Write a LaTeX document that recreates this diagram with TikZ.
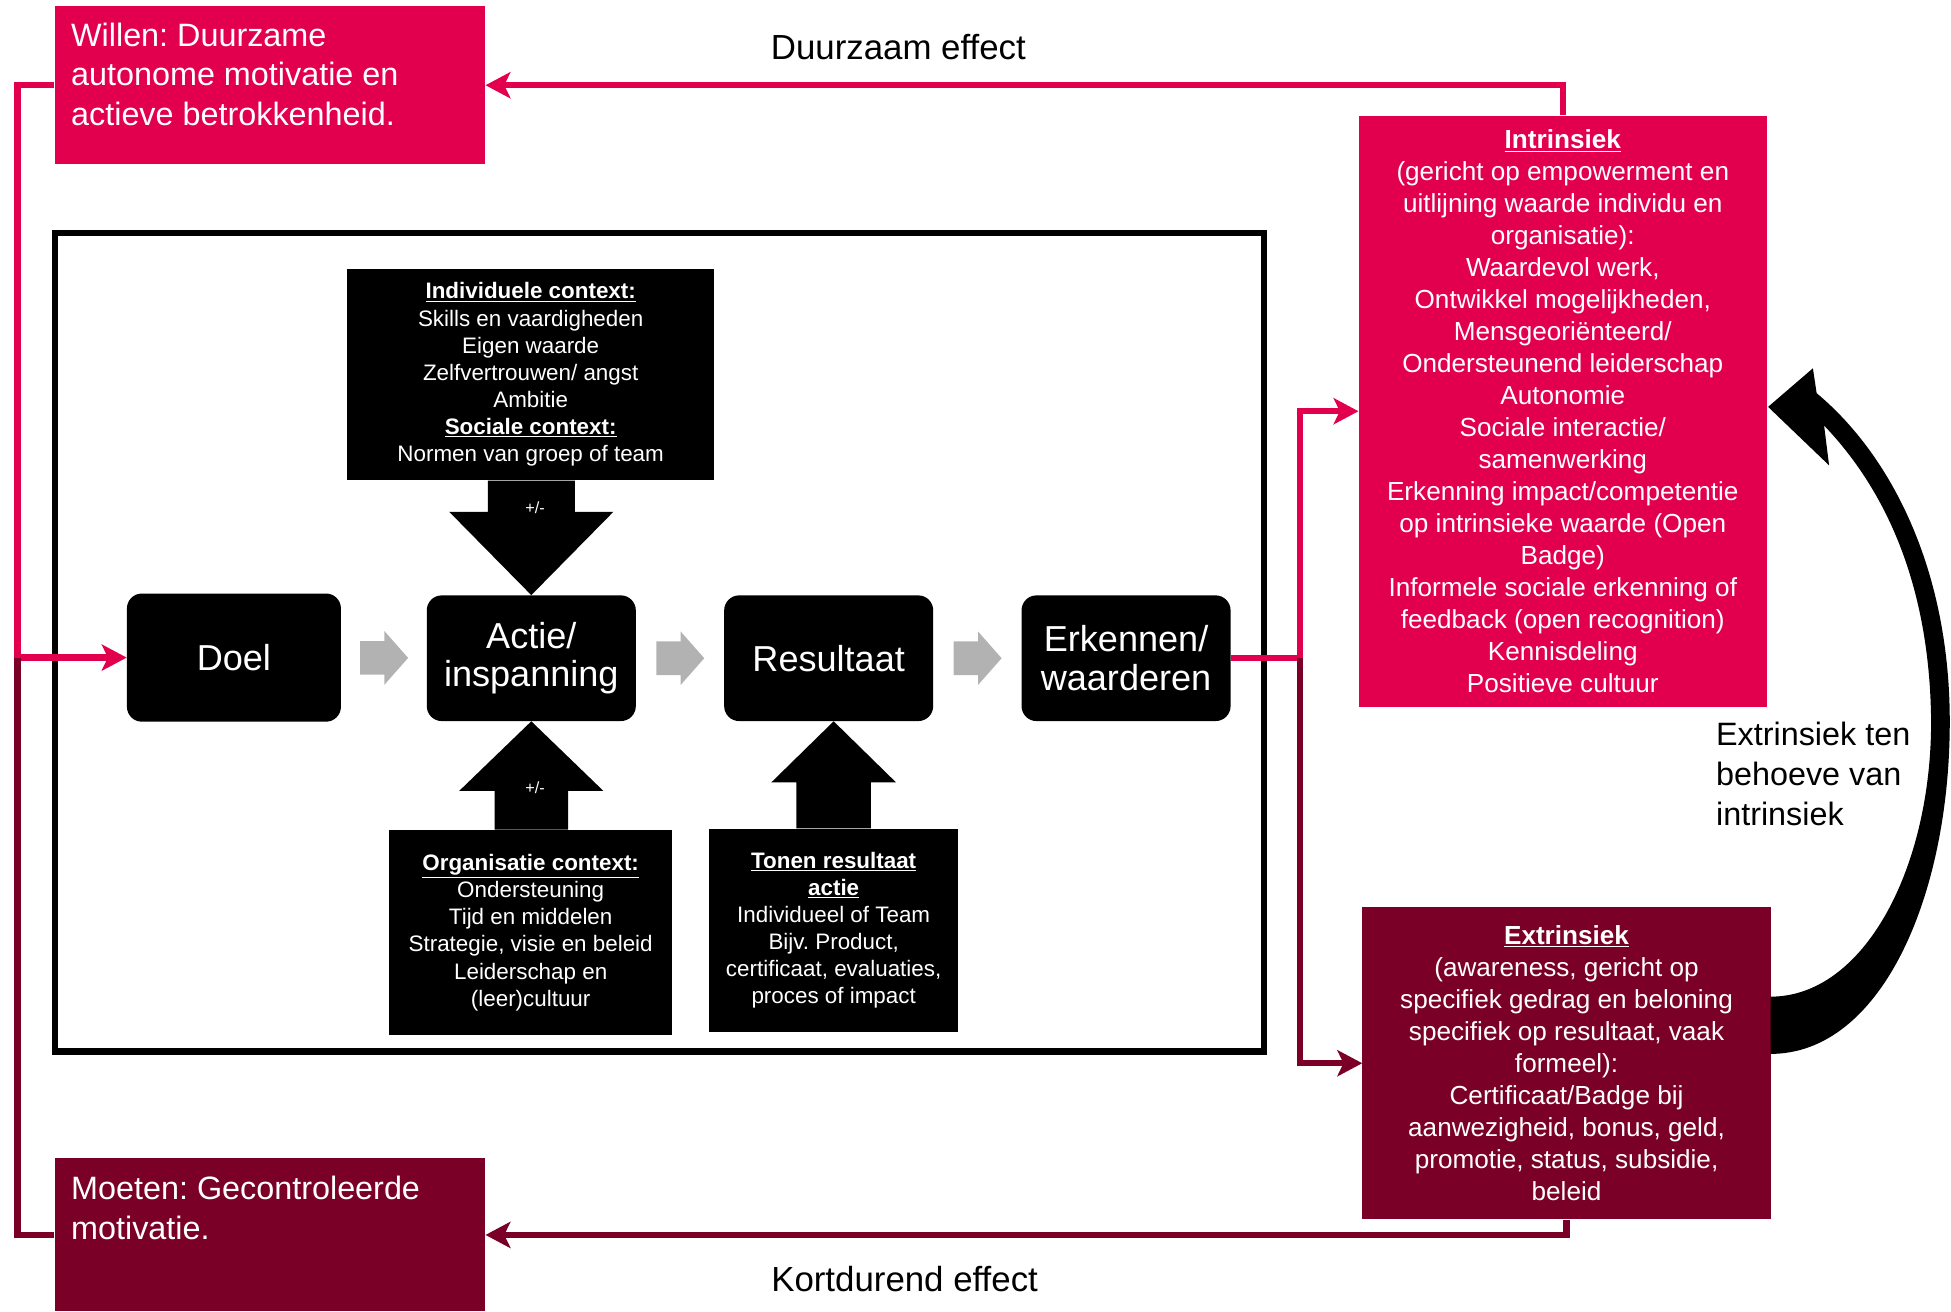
\documentclass[tikz,border=0pt]{standalone}
\usepackage{fontspec}
\setmainfont{Liberation Sans}
\usetikzlibrary{arrows.meta,calc}
\definecolor{pinkc}{RGB}{226,0,78}
\definecolor{darkc}{RGB}{122,0,40}
\definecolor{greyc}{RGB}{178,178,178}
\frenchspacing
\begin{document}
\begin{tikzpicture}[x=1pt,y=1pt,
  pinkbox/.style={fill=pinkc, draw=none, inner sep=0pt},
  darkbox/.style={fill=darkc, draw=none, inner sep=0pt},
  blkbox/.style={fill=black, draw=none, inner sep=0pt, text=white, align=center},
  stepnode/.style={blkbox, rounded corners=12pt, font=\fontsize{29}{31}\selectfont},
  ctxtext/.style={font=\fontsize{18}{21.8}\selectfont},
  sidetext/.style={text=white, align=center, font=\fontsize{21}{25.7}\selectfont},
  cornertext/.style={text=white, align=left, anchor=north west, inner sep=0pt, font=\fontsize{26}{32}\selectfont},
  plaintext/.style={text=black, inner sep=0pt, font=\fontsize{28}{32}\selectfont},
  pmtext/.style={text=white, inner sep=0pt, font=\fontsize{13}{15}\selectfont},
  pinkln/.style={draw=pinkc, line width=5pt},
  darkln/.style={draw=darkc, line width=5pt},
  arrowend/.style={-{Stealth[length=20pt,width=21pt,inset=5pt]}},
  garrow/.pic={\fill[greyc] (-19,13.5) -- (0.5,13.5) -- (0.5,21.5) -- (19.5,0) -- (0.5,-21.5) -- (0.5,-13.5) -- (-19,-13.5) -- cycle;}
]
\useasboundingbox (0,0) rectangle (1568,-1054);

% corner boxes
\node[pinkbox, minimum width=346pt, minimum height=127pt] (willen) at (217,-68.5) {};
\node[cornertext] (willentxt) at (57,-18) {Willen: Duurzame\\autonome motivatie en\\actieve betrokkenheid.};
\node[darkbox, minimum width=346pt, minimum height=123pt] (moeten) at (217,-992.5) {};
\node[cornertext] (moetentxt) at (57,-945) {Moeten: Gecontroleerde\\motivatie.};

% side boxes
\node[pinkbox, sidetext, minimum width=328pt, minimum height=475pt] (intr) at (1256,-330.5)
 {\underline{\textbf{Intrinsiek}}\\(gericht op empowerment en\\uitlijning waarde individu en\\organisatie):\\Waardevol werk,\\Ontwikkel mogelijkheden,\\Mensgeoriënteerd/\\Ondersteunend leiderschap\\Autonomie\\Sociale interactie/\\samenwerking\\Erkenning impact/competentie\\op intrinsieke waarde (Open\\Badge)\\Informele sociale erkenning of\\feedback (open recognition)\\Kennisdeling\\Positieve cultuur};
\node[darkbox, sidetext, minimum width=328pt, minimum height=251pt] (extr) at (1259,-854.5)
 {\underline{\textbf{Extrinsiek}}\\(awareness, gericht op\\specifiek gedrag en beloning\\specifiek op resultaat, vaak\\formeel):\\Certificaat/Badge bij\\aanwezigheid, bonus, geld,\\promotie, status, subsidie,\\beleid};

% frame
\node[draw=black, line width=5pt, minimum width=972pt, minimum height=658pt, inner sep=0pt] (frame) at (530,-516) {};

% context boxes
\node[blkbox, ctxtext, minimum width=295pt, minimum height=170pt] (indiv) at (426.5,-301)
 {\underline{\textbf{Individuele context:}}\\Skills en vaardigheden\\Eigen waarde\\Zelfvertrouwen/ angst\\Ambitie\\\underline{\textbf{Sociale context:}}\\Normen van groep of team};
\node[blkbox, ctxtext, minimum width=227pt, minimum height=165pt] (org) at (426.5,-749.5)
 {\underline{\textbf{Organisatie context:}}\\Ondersteuning\\Tijd en middelen\\Strategie, visie en beleid\\Leiderschap en\\(leer)cultuur};
\node[blkbox, ctxtext, minimum width=200pt, minimum height=163pt] (tonen) at (670,-747.5)
 {\underline{\textbf{Tonen resultaat}}\\\underline{\textbf{actie}}\\Individueel of Team\\Bijv. Product,\\certificaat, evaluaties,\\proces of impact};

% step boxes
\node[stepnode, minimum width=172pt, minimum height=103pt] (doel) at (188,-528.5) {Doel};
\node[stepnode, minimum width=168pt, minimum height=101pt] (actie) at (427,-529) {Actie/\\inspanning};
\node[stepnode, minimum width=168pt, minimum height=101pt] (res) at (666,-529) {Resultaat};
\node[stepnode, minimum width=168pt, minimum height=101pt] (erk) at (905,-529) {Erkennen/\\waarderen};

% grey arrows
\pic at ($(doel.east)!0.5!(actie.west)$) {garrow};
\pic at ($(actie.east)!0.5!(res.west)$) {garrow};
\pic at ($(res.east)!0.5!(erk.west)$) {garrow};

% black block arrows
\fill[black] let \p1=(indiv.south), \p2=(actie.north) in
  (\x2-35,\y1) -- (\x2+35,\y1) -- (\x2+35,\y2+67) -- (\x2+66,\y2+67) -- (\x2,\y2) -- (\x2-66,\y2+67) -- (\x2-35,\y2+67) -- cycle;
\fill[black] let \p1=(org.north), \p2=(actie.south) in
  (\x2-29.5,\y1) -- (\x2+29.5,\y1) -- (\x2+29.5,\y2-56) -- (\x2+58,\y2-56) -- (\x2,\y2) -- (\x2-58,\y2-56) -- (\x2-29.5,\y2-56) -- cycle;
\fill[black] let \p1=(tonen.north), \p2=(res.south) in
  (\x1-30,\y1) -- (\x1+30,\y1) -- (\x1+30,\y2-49) -- (\x1+50,\y2-49) -- (\x1,\y2) -- (\x1-50,\y2-49) -- (\x1-30,\y2-49) -- cycle;
\node[pmtext] (pm1) at (430,-408) {+/-};
\node[pmtext] (pm2) at (430,-633) {+/-};

% connectors
\coordinate (L2) at (14,-528.5);
\coordinate (R1) at (1045,-529);
\draw[pinkln] (willen.west) -| (L2);
\draw[pinkln, arrowend] (L2) -- (doel.west);
\draw[darkln] (L2) |- (moeten.west);
\draw[pinkln] (erk.east) -- (R1);
\draw[pinkln, arrowend] (R1) |- (intr.west);
\draw[darkln, arrowend] (R1) |- (extr.west);
\draw[pinkln, arrowend] (intr.north) |- (willen.east);
\draw[darkln, arrowend] (extr.south) |- (moeten.east);

% labels
\node[plaintext] (duur) at (722,-38) {Duurzaam effect};
\node[plaintext] (kort) at (727,-1028) {Kortdurend effect};
\node[plaintext, anchor=west, align=left, font=\fontsize{26}{32}\selectfont] (ext2int) at (1379,-622) {Extrinsiek ten\\behoeve van\\intrinsiek};

% curved arrow
\fill[black] (1423,-847) .. controls (1512,-847) and (1567,-720) .. (1567,-580)
  .. controls (1567,-458) and (1520,-366) .. (1460,-316)
  -- (1457,-296) -- (1421,-327) -- (1470,-374) -- (1466,-342)
  .. controls (1510,-388) and (1551,-462) .. (1552,-580)
  .. controls (1552,-698) and (1498,-801) .. (1423,-801) -- cycle;
\end{tikzpicture}
\end{document}
